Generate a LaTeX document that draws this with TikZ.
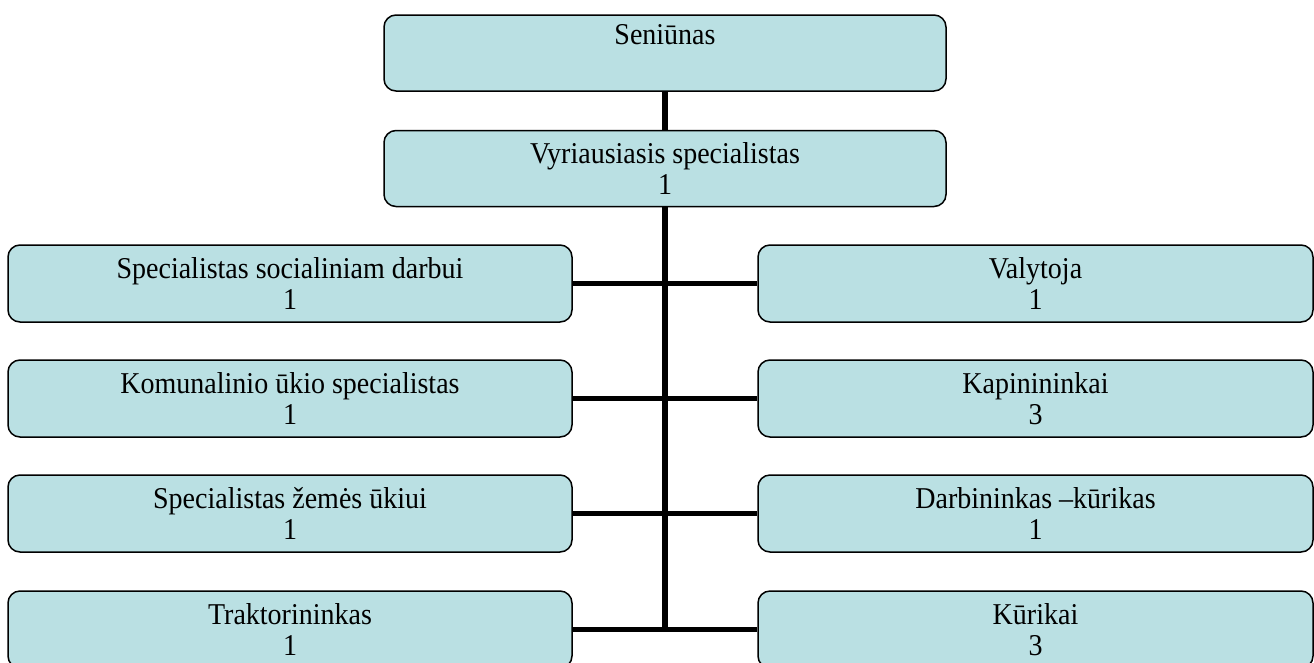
\documentclass[tikz,border=0pt]{standalone}
\usepackage{fontspec}
\setmainfont{Liberation Serif}
\usetikzlibrary{calc}
\definecolor{boxfill}{RGB}{186,224,227}
\newcommand{\tallline}[1]{\scalebox{1}[1.08]{#1}}
\begin{document}
\begin{tikzpicture}[x=1pt,y=-1pt,
  orgbox/.style={draw=black,line width=1.5pt,fill=boxfill,rounded corners=12pt,
    rectangle,inner sep=0pt,align=center,font=\fontsize{28}{31}\selectfont},
  wide/.style={orgbox,minimum width=562pt,minimum height=76pt},
  leftbox/.style={orgbox,minimum width=564pt,minimum height=77pt},
  rightbox/.style={orgbox,minimum width=555pt,minimum height=77pt},
  conn/.style={line width=5pt},
  trunk/.style={line width=6pt}]
\useasboundingbox (0,0) rectangle (1314,662);
\node[wide] (sen) at (665,53) {\raisebox{-3pt}{\tallline{Seniūnas}}\\\strut};
\node[wide] (vyr) at (665,168.5) {\tallline{Vyriausiasis specialistas}\\\tallline{1}};
\node[leftbox]  (l1) at (290,283.5) {\tallline{Specialistas socialiniam darbui}\\\tallline{1}};
\node[leftbox]  (l2) at (290,398.5) {\tallline{Komunalinio ūkio specialistas}\\\tallline{1}};
\node[leftbox]  (l3) at (290,513.5) {\tallline{Specialistas žemės ūkiui}\\\tallline{1}};
\node[leftbox]  (l4) at (290,629.5) {\tallline{Traktorininkas}\\\tallline{1}};
\node[rightbox] (r1) at (1035.5,283.5) {\tallline{Valytoja}\\\tallline{1}};
\node[rightbox] (r2) at (1035.5,398.5) {\tallline{Kapinininkai}\\\tallline{3}};
\node[rightbox] (r3) at (1035.5,513.5) {\tallline{Darbininkas –kūrikas}\\\tallline{1}};
\node[rightbox] (r4) at (1035.5,629.5) {\tallline{Kūrikai}\\\tallline{3}};
\coordinate (tend) at ($(vyr.south |- l4.east)+(0,2.5)$);
\draw[trunk] (sen.south) -- (vyr.north);
\draw[trunk] (vyr.south) -- (tend);
\foreach \i in {1,2,3,4}{\draw[conn] (l\i.east) -- (r\i.west);}
\end{tikzpicture}
\end{document}
